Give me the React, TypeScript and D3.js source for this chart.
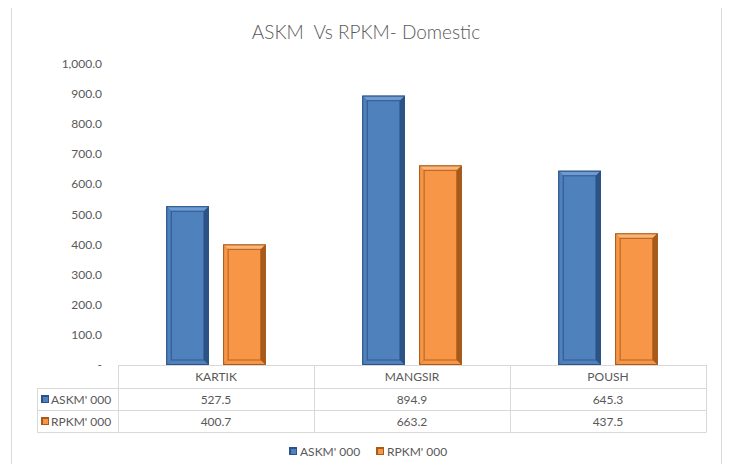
import React, { useEffect, useRef } from 'react'
import * as d3 from 'd3'

const categories = ['KARTIK', 'MANGSIR', 'POUSH']
const seriesNames = ["ASKM' 000", "RPKM' 000"]
const askm = [527.5, 894.9, 645.3]
const rpkm = [400.7, 663.2, 437.5]
const yTicks = [0, 100, 200, 300, 400, 500, 600, 700, 800, 900, 1000]

const colors = [
  { base: '#4F81BD', light: '#6f9bd3', dark: '#2c5286' },
  { base: '#F79646', light: '#fbb576', dark: '#a85a1a' },
]

const W = 730
const H = 472

const Chart: React.FC = () => {
  const ref = useRef<SVGSVGElement>(null)

  useEffect(() => {
    if (!ref.current) return
    const svg = d3.select(ref.current)
    svg.selectAll('*').remove()

    const font = 'Lato, "Open Sans", sans-serif'
    const txt = '#595959'
    const grid = '#D9D9D9'

    const plotLeft = 118
    const plotRight = 706
    const top = 64
    const base = 365
    const rowH = 22

    // outer border
    svg.append('rect')
      .attr('x', 11.5).attr('y', 6.5)
      .attr('width', 710).attr('height', 480)
      .attr('fill', '#fff').attr('stroke', '#D9D9D9')

    svg.append('text')
      .attr('x', 366).attr('y', 39)
      .attr('text-anchor', 'middle')
      .attr('font-family', font).attr('font-size', 19).attr('font-weight', 300)
      .attr('fill', txt)
      .style('white-space', 'pre')
      .text('ASKM  Vs RPKM- Domestic')

    const x = d3.scaleBand<string>().domain(categories).range([plotLeft, plotRight])
    const y = d3.scaleLinear().domain([0, 1000]).range([base, top])
    const inner = d3.scaleBand<string>().domain(seriesNames).range([0, x.bandwidth()])
      .paddingInner(0.25).paddingOuter(0.85)

    // y axis labels
    svg.append('g').selectAll('text').data(yTicks).enter().append('text')
      .attr('x', 102).attr('y', d => y(d) + 4)
      .attr('text-anchor', 'end')
      .attr('font-family', font).attr('font-size', 12)
      .attr('fill', txt)
      .text(d => (d === 0 ? '-' : d3.format(',.1f')(d)))

    const series = [askm, rpkm]
    series.forEach((vals, si) => {
      const c = colors[si]
      const gBars = svg.append('g')
      const bw = inner.bandwidth()
      const data = categories.map((cat, i) => ({ cat, v: vals[i] }))
      const sel = gBars.selectAll('g').data(data).enter().append('g')
        .attr('transform', d => `translate(${(x(d.cat) || 0) + (inner(seriesNames[si]) || 0)},${y(d.v)})`)
      const e = 5
      const h = (d: { v: number }) => base - y(d.v)
      sel.append('rect')
        .attr('width', bw).attr('height', h)
        .attr('fill', c.dark)
      // top bevel (light)
      sel.append('polygon')
        .attr('points', () => `0,0 ${bw},0 ${bw - e},${e} ${e},${e}`)
        .attr('fill', c.light)
      // left bevel
      sel.append('polygon')
        .attr('points', d => `0,0 ${e},${e} ${e},${h(d) - e} 0,${h(d)}`)
        .attr('fill', c.base)
      // right bevel
      sel.append('polygon')
        .attr('points', d => `${bw},0 ${bw},${h(d)} ${bw - e},${h(d) - e} ${bw - e},${e}`)
        .attr('fill', c.dark)
      // bottom bevel
      sel.append('polygon')
        .attr('points', d => `0,${h(d)} ${bw},${h(d)} ${bw - e},${h(d) - e} ${e},${h(d) - e}`)
        .attr('fill', c.base)
      // inner face
      sel.append('rect')
        .attr('x', e).attr('y', e)
        .attr('width', bw - 2 * e).attr('height', d => Math.max(0, h(d) - 2 * e))
        .attr('fill', c.base)
        .attr('stroke', c.dark).attr('stroke-width', 1.2).attr('stroke-opacity', 0.7)
      sel.append('rect')
        .attr('x', 0.5).attr('y', 0.5)
        .attr('width', bw - 1).attr('height', d => h(d) - 1)
        .attr('fill', 'none')
        .attr('stroke', c.dark).attr('stroke-width', 1)
    })

    // data table
    const tbl = svg.append('g')
    const tableLeft = 37
    const rows = [base, base + rowH + 1, base + 2 * rowH + 1, base + 3 * rowH + 1]
    tbl.append('line').attr('x1', plotLeft).attr('x2', plotRight).attr('y1', rows[0] + 0.5).attr('y2', rows[0] + 0.5)
      .attr('stroke', grid)
    rows.slice(1).forEach(r => {
      tbl.append('line').attr('x1', tableLeft).attr('x2', plotRight).attr('y1', r + 0.5).attr('y2', r + 0.5)
        .attr('stroke', grid)
    })
    tbl.append('line').attr('x1', tableLeft + 0.5).attr('x2', tableLeft + 0.5)
      .attr('y1', rows[1]).attr('y2', rows[3] + 0.5).attr('stroke', grid)
    const vx = [plotLeft, ...categories.map(cat => (x(cat) || 0) + x.bandwidth())]
    vx.forEach(v => {
      tbl.append('line').attr('x1', v + 0.5).attr('x2', v + 0.5)
        .attr('y1', rows[0]).attr('y2', rows[3] + 0.5).attr('stroke', grid)
    })
    tbl.selectAll('text.cat').data(categories).enter().append('text')
      .attr('class', 'cat')
      .attr('x', d => (x(d) || 0) + x.bandwidth() / 2)
      .attr('y', rows[0] + 16)
      .attr('text-anchor', 'middle')
      .attr('font-family', font).attr('font-size', 12).attr('fill', txt)
      .text(d => d)
    series.forEach((vals, si) => {
      const ry = rows[si + 1]
      tbl.selectAll(`text.v${si}`).data(vals).enter().append('text')
        .attr('x', (d, i) => (x(categories[i]) || 0) + x.bandwidth() / 2)
        .attr('y', ry + 16)
        .attr('text-anchor', 'middle')
        .attr('font-family', font).attr('font-size', 12).attr('fill', txt)
        .text(d => d3.format('.1f')(d))
      drawKey(tbl, 41, ry + 7, si)
      tbl.append('text')
        .attr('x', 51).attr('y', ry + 16)
        .attr('font-family', font).attr('font-size', 12).attr('fill', txt)
        .text(seriesNames[si])
    })

    function drawKey(g: d3.Selection<SVGGElement, unknown, null, undefined>, kx: number, ky: number, si: number) {
      const c = colors[si]
      g.append('rect').attr('x', kx).attr('y', ky).attr('width', 8).attr('height', 8).attr('fill', c.dark)
      g.append('rect').attr('x', kx + 2).attr('y', ky + 2).attr('width', 5).attr('height', 5).attr('fill', c.base)
    }

    // legend
    const leg = svg.append('g')
    const legX = [289, 376]
    seriesNames.forEach((s, i) => {
      drawKey(leg, legX[i], 447, i)
      leg.append('text')
        .attr('x', legX[i] + 11).attr('y', 456)
        .attr('font-family', font).attr('font-size', 12).attr('fill', txt)
        .text(s)
    })
  }, [])

  return <svg ref={ref} width={W} height={H} style={{ display: 'block' }} />
}

export default function App() {
  return (
    <div style={{ margin: -8 }}>
      <Chart />
    </div>
  )
}
